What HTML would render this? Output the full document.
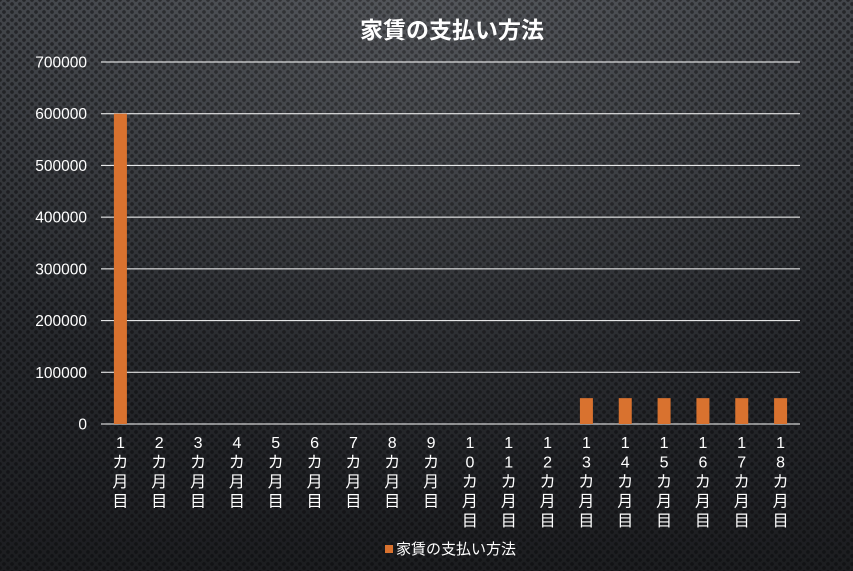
<!DOCTYPE html>
<html><head><meta charset="utf-8"><style>
body{margin:0;width:853px;height:571px;overflow:hidden;font-family:"Liberation Sans","Noto Sans CJK JP",sans-serif;}
#bg{position:absolute;left:0;top:0;width:853px;height:571px;
background:radial-gradient(circle at 50% 0%, rgba(255,255,255,0.10), rgba(0,0,0,0) 70%),
radial-gradient(circle, rgba(10,10,12,0.55) 1.6px, transparent 2.2px) 0 0/8px 8px,
radial-gradient(circle, rgba(10,10,12,0.55) 1.6px, transparent 2.2px) 4px 4px/8px 8px,
linear-gradient(#404348,#26282c 60%,#1c1d20);}
svg{position:absolute;left:0;top:0}
text{fill:#fff}
</style></head><body>
<div id="bg"></div>
<svg id="c" width="853" height="571">
<text x="452" y="38" text-anchor="middle" font-size="23" font-weight="bold">家賃の支払い方法</text>
<g id="grid"></g><g id="bars"></g><g id="xl"></g>
<g>
<rect x="385" y="545" width="8" height="8" fill="#d9722f"></rect>
<text x="396" y="554" font-size="15">家賃の支払い方法</text>
</g>
</svg>
<script>
const categories=["1カ月目","2カ月目","3カ月目","4カ月目","5カ月目","6カ月目","7カ月目","8カ月目","9カ月目","10カ月目","11カ月目","12カ月目","13カ月目","14カ月目","15カ月目","16カ月目","17カ月目","18カ月目"];
const values=[600000,0,0,0,0,0,0,0,0,0,0,0,50000,50000,50000,50000,50000,50000];
const ticks=[0,100000,200000,300000,400000,500000,600000,700000];
const NS="http://www.w3.org/2000/svg";
const x0=101,x1=800,y0=424,yTop=62,maxV=700000;
const y=v=>y0-(v/maxV)*(y0-yTop);
const bw=(x1-x0)/categories.length;
const xc=i=>x0+bw*(i+0.5);
function mk(t,a,p){const e=document.createElementNS(NS,t);for(const k in a)e.setAttribute(k,a[k]);p.appendChild(e);return e;}
const g=document.getElementById('grid');
ticks.forEach(t=>{
 const l=mk('line',{x1:x0,x2:x1,y1:y(t),y2:y(t),stroke:'#fff','stroke-width':1},g);
 
 
 const tx=mk('text',{x:87,y:y(t)+5.5,'text-anchor':'end','font-size':15.5},g);
 tx.textContent=t;
 
 
});
const b=document.getElementById('bars');
values.forEach((v,i)=>{
 if(v<=0)return;
 const r=mk('rect',{x:xc(i)-6.5,y:y(v),width:13,height:y0-y(v),fill:'#d9722f'},b);
 
 
});
const xl=document.getElementById('xl');
categories.forEach((c,i)=>{
 const t=mk('text',{'text-anchor':'middle','font-size':16},xl);
 
 
 [...c].forEach((ch,j)=>{const s=mk('tspan',{x:xc(i),y:448+j*19.5},t);s.textContent=ch;});
});
</script>
</body></html>
